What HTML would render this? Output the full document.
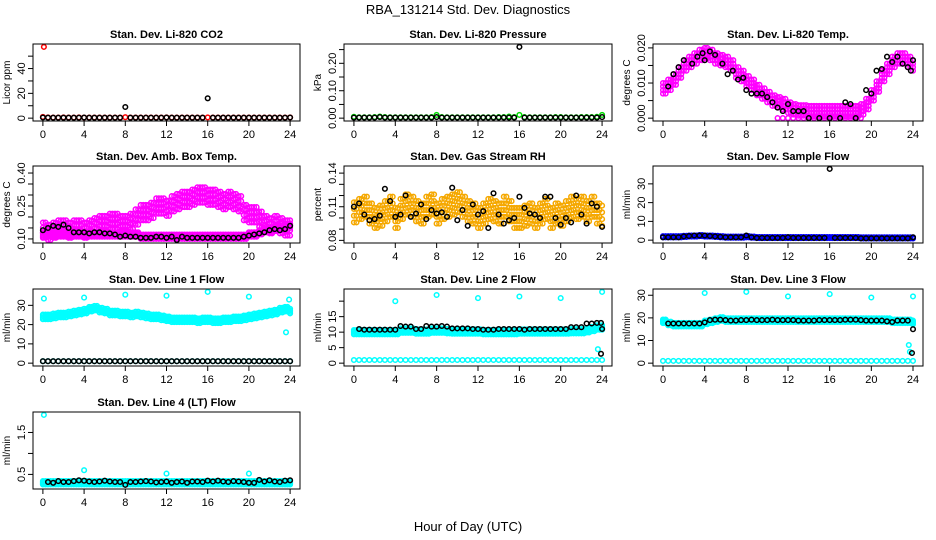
<!DOCTYPE html>
<html><head><meta charset="utf-8"><style>
body{margin:0;background:#fff}
svg{display:block;font-family:"Liberation Sans",sans-serif}
</style></head><body>
<svg id="c" width="936" height="540" xmlns="http://www.w3.org/2000/svg">
<text x="468" y="14" text-anchor="middle" font-size="13">RBA_131214  Std. Dev. Diagnostics</text>
<text x="468" y="531" text-anchor="middle" font-size="13">Hour of Day (UTC)</text>
</svg>
<script>
const H49=[0,0.5,1,1.5,2,2.5,3,3.5,4,4.5,5,5.5,6,6.5,7,7.5,8,8.5,9,9.5,10,10.5,11,11.5,12,12.5,13,13.5,14,14.5,15,15.5,16,16.5,17,17.5,18,18.5,19,19.5,20,20.5,21,21.5,22,22.5,23,23.5,24];
const xTicks=[0,4,8,12,16,20,24];
const co2Red=[1,0.6,0.5,0.5,0.6,0.5,0.5,0.6,0.5,0.5,0.5,0.5,0.5,0.5,0.5,0.5,0.8,0.5,0.5,0.5,0.5,0.5,0.5,0.5,0.6,0.5,0.5,0.5,0.5,0.5,0.5,0.5,0.6,0.5,0.5,0.5,0.5,0.5,0.5,0.5,0.5,0.5,0.5,0.5,0.5,0.5,0.5,0.5,0.6];
const co2Blk=[0.5,0.4,0.4,0.4,0.4,0.4,0.4,0.4,0.5,0.4,0.4,0.4,0.4,0.4,0.4,0.4,9,0.4,0.4,0.4,0.4,0.4,0.4,0.4,0.5,0.4,0.4,0.4,0.4,0.4,0.4,0.4,16,0.4,0.4,0.4,0.4,0.4,0.4,0.4,0.4,0.4,0.4,0.4,0.4,0.4,0.4,0.4,0.5];
const co2Out={x:[0.1],y:[57.5]};
const presGrn=[0.005,0.003,0.003,0.003,0.004,0.006,0.004,0.003,0.003,0.003,0.003,0.003,0.003,0.003,0.003,0.004,0.012,0.004,0.003,0.003,0.003,0.003,0.003,0.003,0.003,0.003,0.003,0.003,0.004,0.004,0.006,0.004,0.012,0.004,0.003,0.003,0.003,0.003,0.003,0.004,0.004,0.003,0.003,0.003,0.004,0.004,0.004,0.005,0.012];
const presBlk=[0.002,0.002,0.002,0.002,0.002,0.004,0.002,0.002,0.002,0.002,0.002,0.002,0.002,0.002,0.002,0.002,0.004,0.002,0.002,0.002,0.002,0.002,0.002,0.002,0.002,0.002,0.002,0.002,0.002,0.002,0.002,0.002,0.26,0.002,0.002,0.002,0.002,0.002,0.002,0.002,0.002,0.002,0.002,0.002,0.002,0.002,0.002,0.002,0.004];
const tempMag=[0.0085,0.0095,0.011,0.013,0.015,0.016,0.017,0.018,0.0185,0.018,0.017,0.0165,0.016,0.015,0.013,0.012,0.0105,0.0095,0.008,0.007,0.006,0.005,0.0045,0.004,0.003,0.0025,0.0022,0.0022,0.002,0.002,0.002,0.002,0.002,0.002,0.002,0.002,0.002,0.002,0.0025,0.004,0.0065,0.009,0.012,0.014,0.016,0.017,0.017,0.016,0.015];
const tempZero=[11,11.5,12,12.5,13,13.5,14,14.5,15,15.5,16,16.5,17,17.5,18,18.5,19];
const tempBlkX=[0.5,1,1.5,2,2.8,3.3,3.8,4,4.5,5,5.7,6.2,6.7,7.2,7.7,8,8.5,9,9.5,10,10.5,11,11.5,12,12.5,13,13.5,14,15,16,17,17.5,18,18.5,19.5,20,20.5,21,21.5,22,22.5,23,23.5,23.8,24];
const tempBlkY=[0.009,0.0125,0.0145,0.0165,0.0155,0.0175,0.0185,0.0165,0.019,0.018,0.0155,0.0125,0.0135,0.011,0.0115,0.008,0.007,0.007,0.007,0.006,0.0045,0.003,0.002,0.004,0.002,0.002,0.002,0.000,0.000,0.000,0.000,0.0045,0.004,0.000,0.008,0.007,0.0135,0.014,0.0175,0.016,0.0175,0.0155,0.0145,0.0135,0.0165];
const ambMag=[0.14,0.13,0.14,0.15,0.15,0.14,0.15,0.15,0.14,0.15,0.16,0.17,0.17,0.18,0.18,0.17,0.17,0.18,0.2,0.22,0.22,0.23,0.25,0.25,0.24,0.26,0.27,0.28,0.28,0.29,0.30,0.30,0.29,0.29,0.28,0.27,0.28,0.27,0.26,0.22,0.21,0.21,0.19,0.17,0.16,0.17,0.16,0.15,0.15];
const ambLow=[0.12,0.12,0.12,0.12,0.12,0.12,0.12,0.12,0.12,0.12,0.12,0.12,0.12,0.12,0.12,0.12,0.12,0.12,0.12,0.11,0.11,0.11,0.11,0.11,0.11,0.11,0.11,0.11,0.11,0.11,0.11,0.11,0.11,0.11,0.11,0.11,0.11,0.11,0.11,0.11,0.12,0.12,0.13,0.14,0.14,0.15,0.15,0.16,0.16];
const ambBlk=[0.14,0.15,0.16,0.155,0.165,0.15,0.13,0.13,0.13,0.125,0.13,0.13,0.125,0.125,0.12,0.11,0.115,0.11,0.11,0.105,0.105,0.105,0.11,0.11,0.105,0.11,0.095,0.11,0.105,0.105,0.105,0.105,0.105,0.105,0.105,0.105,0.105,0.105,0.105,0.11,0.115,0.12,0.125,0.13,0.14,0.145,0.14,0.145,0.16];
const rhOra=[0.105,0.108,0.11,0.104,0.1,0.102,0.106,0.11,0.1,0.108,0.112,0.11,0.106,0.104,0.11,0.112,0.104,0.108,0.11,0.112,0.114,0.11,0.106,0.104,0.1,0.104,0.108,0.106,0.104,0.11,0.106,0.1,0.1,0.102,0.104,0.1,0.104,0.108,0.1,0.104,0.102,0.106,0.11,0.108,0.11,0.106,0.11,0.104,0.102];
const rhBlk=[0.11,0.113,0.103,0.098,0.099,0.102,0.126,0.115,0.101,0.103,0.12,0.101,0.104,0.112,0.099,0.107,0.104,0.105,0.101,0.127,0.098,0.107,0.093,0.112,0.103,0.106,0.091,0.122,0.103,0.095,0.098,0.1,0.119,0.109,0.104,0.103,0.1,0.119,0.119,0.1,0.094,0.1,0.096,0.12,0.103,0.095,0.113,0.11,0.092];
const sfBlu=[1.8,1.8,1.8,1.8,2,2.2,2.2,2.4,2.2,2.2,2,1.8,1.6,1.6,1.6,1.6,1.8,1.6,1.4,1.4,1.4,1.4,1.4,1.4,1.4,1.4,1.4,1.4,1.4,1.4,1.4,1.4,1.4,1.4,1.4,1.4,1.4,1.4,1.2,1.2,1.2,1.2,1.2,1.2,1.2,1.2,1.2,1.2,1.2];
const sfBlk=[1.5,1.5,1.5,1.5,2,2.2,2.5,2.5,2.5,2.2,2,1.8,1.5,1.5,1.5,1.5,2.5,1.5,1.2,1.2,1.2,1.2,1.2,1.2,1.5,1.2,1.2,1.2,1.2,1.2,1.2,1.2,38,1.2,1.2,1.2,1.2,1.2,1,1,1,1,1,1,1,1,1,1,1.5];
const l1Cyan=[24,24,24.5,25,25,25.5,26,26.5,27,28,28.5,27.5,27,26,26,25.5,25.5,25,25.5,25,24.5,24,24,23.5,23,22.5,22.5,22.5,22.5,22.5,22,22.5,22.5,22,22,22.5,22.5,23,23,23.5,24,24.5,25,25.5,26,26.5,27.5,28,27];
const l1Out={x:[0.1,4,8,12,16,20,23.6,23.9],y:[33.5,34,35.5,35,37,34.5,16,33]};
const l1Low=[1,1,1,1,1,1,1,1,1,1,1,1,1,1,1,1,1,1,1,1,1,1,1,1,1,1,1,1,1,1,1,1,1,1,1,1,1,1,1,1,1,1,1,1,1,1,1,1,1];
const l1Blk=[1,1,1,1,1,1,1,1,1,1,1,1,1,1,1,1,1,1,1,1,1,1,1,1,1,1,1,1,1,1,1,1,1,1,1,1,1,1,1,1,1,1,1,1,1,1,1,1,1];
const l2Cyan=[10,10,10,10,10,10,10,10,10,10.5,10.5,10.5,10.2,10.2,10.2,10.5,10.5,10.5,10.3,10.2,10.2,10.2,10.2,10.2,10.2,10,10,10,10,10,10,10,10.2,10.2,10.2,10.2,10.2,10.2,10.2,10.2,10.2,10.2,10.3,10.3,10.3,10.6,11,11.5,11.5];
const l2Blk=[null,11,10.8,10.8,10.8,10.8,10.8,10.8,10.8,12,11.8,11.8,11,11,12,11.8,11.8,12,11.8,11.2,11.2,11.2,11.2,11,11,10.8,10.8,10.8,11,11,11,11,11,10.8,11,11,11,11,11,11,11,11,11.6,11.6,11.6,12.8,12.8,13,11];
const l2Out={x:[4,8,12,16,20,24,23.6],y:[20,22,21,21.5,21,23,4.5]};
const l2BlkOut={x:[23.9,23.9],y:[3,13]};
const l3Cyan=[18.5,17.5,17,17,17,17,17,17,18,18.5,19,19.5,19,19,19,19,19,19,19,19,19,19,19,19,19,19,19,19,19,19,19,19,19,19,19,19,19,19,19,19,19,19,19,19,18.5,18.5,18.5,18.5,18];
const l3Blk=[null,17.5,17.5,17.5,17.5,17.5,17.5,17.5,18,19,19.2,19.2,19,18.8,18.8,19,19,19.2,19,19,19,19.2,19,19,19,19,18.8,18.8,18.8,18.8,19,19,19,19,19,19.2,19.2,19.2,19,18.8,18.8,18.8,18.8,18.5,18.2,18.8,18.8,18.8,15];
const l3Out={x:[4,8,12,16,20,24,23.6,23.7],y:[31,31.5,29.5,30.5,29,29.5,8,5]};
const l3BlkOut={x:[23.9],y:[4.5]};
const l4Cyan=[0.3,0.3,0.3,0.3,0.3,0.3,0.3,0.3,0.3,0.3,0.3,0.3,0.3,0.3,0.3,0.3,0.3,0.3,0.3,0.3,0.3,0.3,0.3,0.3,0.3,0.3,0.3,0.3,0.3,0.3,0.3,0.3,0.3,0.3,0.3,0.3,0.3,0.3,0.3,0.3,0.3,0.3,0.3,0.3,0.3,0.3,0.3,0.3,0.3];
const l4Blk=[null,0.32,0.3,0.34,0.32,0.32,0.34,0.36,0.35,0.33,0.32,0.33,0.35,0.33,0.32,0.32,0.25,0.32,0.32,0.33,0.34,0.33,0.31,0.32,0.33,0.3,0.32,0.33,0.3,0.33,0.33,0.32,0.35,0.33,0.35,0.33,0.32,0.34,0.33,0.32,0.3,0.3,0.37,0.33,0.36,0.33,0.32,0.35,0.36];
const l4Out={x:[0.1,4,12,20],y:[1.92,0.6,0.52,0.52]};

const cols=[[33,300],[344,612],[653,923]];
const rows=[[44,121],[166,243],[289,366],[412,489]];
const NS='http://www.w3.org/2000/svg';
const svg=document.getElementById('c');
function el(t,a,p){const e=document.createElementNS(NS,t);for(const k in a)e.setAttribute(k,a[k]);(p||svg).appendChild(e);return e;}
function seq(arr){return arr.map((v,i)=>({x:H49[i],y:v})).filter(p=>p.y!==null);}
function pts(o){return o.x.map((x,i)=>({x:x,y:o.y[i]}));}
function band(arr,s){let r=[];arr.forEach((v,i)=>{const x=H49[i];[0,0.25].forEach(dx=>{if(x+dx<=24.1)r.push({x:x+dx,y:v-s},{x:x+dx,y:v-s/3},{x:x+dx,y:v+s/3},{x:x+dx,y:v+s});});});return r;}
const ORA='#f5a800';
const panels=[
 {t:'Stan. Dev. Li-820 CO2',yl:'Licor ppm',c:0,r:0,ylim:[0,57.5],ticks:[0,10,20,30,40,50],labs:{0:'0',20:'20',40:'40'},s:[[seq(co2Red),'#f00'],[pts(co2Out),'#f00'],[seq(co2Blk),'#000']]},
 {t:'Stan. Dev. Li-820 Pressure',yl:'kPa',c:1,r:0,ylim:[0,0.26],ticks:[0,0.05,0.1,0.15,0.2,0.25],labs:{0:'0.00',0.1:'0.10',0.2:'0.20'},s:[[seq(presGrn),'#00dd00'],[seq(presBlk),'#000']]},
 {t:'Stan. Dev. Li-820 Temp.',yl:'degrees C',c:2,r:0,ylim:[0,0.0203],ticks:[0,0.005,0.01,0.015,0.02],labs:{0:'0.000',0.01:'0.010',0.02:'0.020'},s:[[band(tempMag,0.0015),'#f0f'],[tempZero.map(x=>({x:x,y:0})),'#f0f'],[pts({x:tempBlkX,y:tempBlkY}),'#000']]},
 {t:'Stan. Dev. Amb. Box Temp.',yl:'degrees C',c:0,r:1,ylim:[0.0945,0.419],ticks:[0.1,0.15,0.2,0.25,0.3,0.35,0.4],labs:{0.1:'0.10',0.25:'0.25',0.4:'0.40'},s:[[band(ambMag,0.035),'#f0f'],[band(ambLow,0.01),'#f0f'],[seq(ambBlk),'#000']]},
 {t:'Stan. Dev. Gas Stream RH',yl:'percent',c:1,r:1,ylim:[0.0802,0.1438],ticks:[0.08,0.09,0.1,0.11,0.12,0.13,0.14],labs:{0.08:'0.08',0.11:'0.11',0.14:'0.14'},s:[[band(rhOra,0.009),ORA],[seq(rhBlk),'#000']]},
 {t:'Stan. Dev. Sample Flow',yl:'ml/min',c:2,r:1,ylim:[0,38],ticks:[0,10,20,30],labs:{0:'0',10:'10',20:'20',30:'30'},s:[[band(sfBlu,0.3),'#00f'],[seq(sfBlk),'#000']]},
 {t:'Stan. Dev. Line 1 Flow',yl:'ml/min',c:0,r:2,ylim:[0,37],ticks:[0,10,20,30],labs:{0:'0',10:'10',20:'20',30:'30'},s:[[band(l1Cyan,1.2),'#0ff'],[pts(l1Out),'#0ff'],[seq(l1Low),'#0ff'],[seq(l1Blk),'#000']]},
 {t:'Stan. Dev. Line 2 Flow',yl:'ml/min',c:1,r:2,ylim:[0,23],ticks:[0,5,10,15,20],labs:{0:'0',5:'5',10:'10',15:'15'},s:[[band(l2Cyan,0.7),'#0ff'],[pts(l2Out),'#0ff'],[seq(l1Low),'#0ff'],[seq(l2Blk),'#000'],[pts(l2BlkOut),'#000']]},
 {t:'Stan. Dev. Line 3 Flow',yl:'ml/min',c:2,r:2,ylim:[0,31.5],ticks:[0,10,20,30],labs:{0:'0',10:'10',20:'20',30:'30'},s:[[band(l3Cyan,0.8),'#0ff'],[pts(l3Out),'#0ff'],[seq(l1Low),'#0ff'],[seq(l3Blk),'#000'],[pts(l3BlkOut),'#000']]},
 {t:'Stan. Dev. Line 4 (LT) Flow',yl:'ml/min',c:0,r:3,ylim:[0.22,1.92],ticks:[0.5,1.0,1.5],labs:{0.5:'0.5',1.5:'1.5'},s:[[band(l4Cyan,0.04),'#0ff'],[pts(l4Out),'#0ff'],[seq(l4Blk),'#000']]}
];
panels.forEach((p,pi)=>{
 const [L,R]=cols[p.c],[T,B]=rows[p.r];
 const g=el('g',{});
 
 
 const xr=24*1.08,x0=-0.96;
 const xs=v=>L+(v-x0)/xr*(R-L);
 const d=p.ylim[1]-p.ylim[0],y0=p.ylim[0]-0.04*d,yr=d*1.08;
 const ys=v=>B-(v-y0)/yr*(B-T);
 const cx=(L+R)/2;
 const ti=el('text',{x:cx,y:T-6,'text-anchor':'middle','font-size':'11','font-weight':'bold'},g);ti.textContent=p.t;
 
 
 const yt=el('text',{transform:`translate(${L-23},${(T+B)/2}) rotate(-90)`,'text-anchor':'middle','font-size':'10'},g);yt.textContent=p.yl;
 
 
 const mg=el('g',{fill:'none','stroke-width':'1.5'},g);
 p.s.forEach(([arr,col])=>{arr.forEach(q=>{const c=el('circle',{cx:xs(q.x).toFixed(1),cy:ys(q.y).toFixed(1),r:'2.3',stroke:col},mg);
  
  });});
 const bx=el('rect',{x:L,y:T,width:R-L,height:B-T,fill:'none',stroke:'#000','stroke-width':'1'},g);
 
 
 el('line',{x1:xs(0),x2:xs(24),y1:B,y2:B,stroke:'#000'},g);
 xTicks.forEach(v=>{el('line',{x1:xs(v),x2:xs(v),y1:B,y2:B+5,stroke:'#000'},g);
  const t=el('text',{x:xs(v),y:B+17,'text-anchor':'middle','font-size':'11'},g);t.textContent=v;
  
  });
 el('line',{x1:L,x2:L,y1:ys(p.ticks[0]),y2:ys(p.ticks[p.ticks.length-1]),stroke:'#000'},g);
 p.ticks.forEach(v=>{el('line',{x1:L-5,x2:L,y1:ys(v),y2:ys(v),stroke:'#000'},g);
  const lab=p.labs[v];
  if(lab!==undefined){const t=el('text',{transform:`translate(${L-8},${ys(v)}) rotate(-90)`,'text-anchor':'middle','font-size':'11'},g);t.textContent=lab;
   
   }
 });
});
</script>
</body></html>
